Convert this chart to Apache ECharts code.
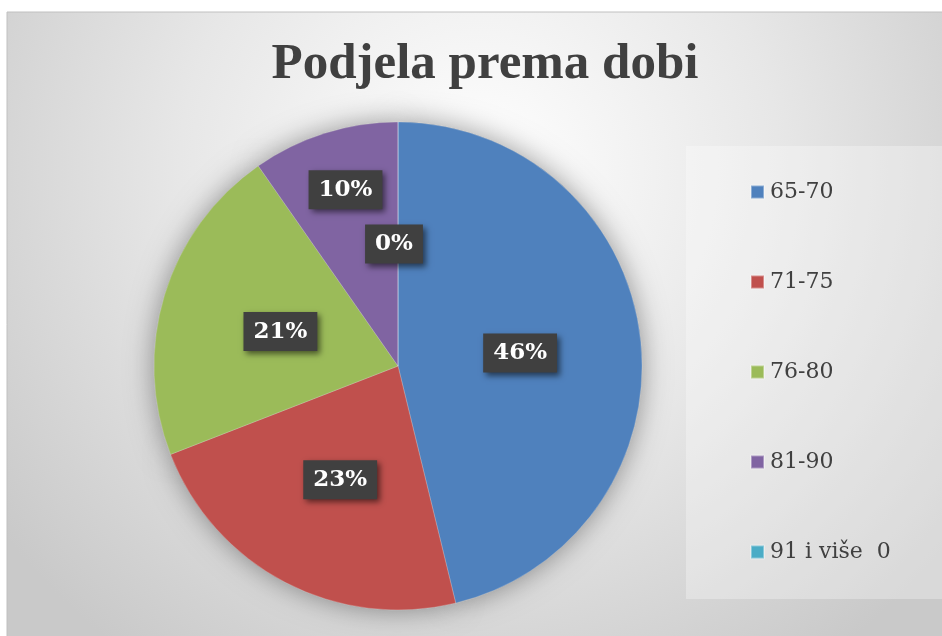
<!DOCTYPE html>
<html>
<head>
<meta charset="utf-8">
<script src="https://cdn.jsdelivr.net/npm/echarts@6/dist/echarts.min.js"></script>
<style>
  html, body { margin: 0; padding: 0; background: #fff; }
  #chart { width: 942px; height: 636px; }
</style>
</head>
<body>
<div id="chart"></div>
<script>
var titleText = 'Podjela prema dobi';
var categories = ['65-70', '71-75', '76-80', '81-90', '91 i više  0'];
var shares = [46.2, 22.9, 21.2, 9.7, 0];
var colors = ['#4F81BD', '#C0504D', '#9BBB59', '#8064A2', '#4BACC6'];

// label nudges (px) so the small slices don't overlap, like in the original
var labelShift = [[-2, 2], [0, 3], [2, 2], [-15, -57], [-4, 3]];

var serif = '"DejaVu Serif", "Liberation Serif", serif';

var chart = echarts.init(document.getElementById('chart'));

var pieData = [];
var shadowData = [];
for (var i = 0; i < categories.length; i++) {
    pieData.push({ name: categories[i], value: shares[i] });
    shadowData.push({ name: categories[i], value: shares[i] });
}

var option = {
    animation: false,
    color: colors,
    graphic: [{
        type: 'rect',
        z: -10,
        silent: true,
        shape: { x: 7, y: 12, width: 945, height: 630 },
        style: {
            fill: new echarts.graphic.RadialGradient(0.5, 0.25, 0.95, [
                { offset: 0, color: '#ffffff' },
                { offset: 0.5, color: '#e7e7e7' },
                { offset: 1, color: '#c9c9c9' }
            ]),
            stroke: '#c0c0c0',
            lineWidth: 1
        }
    }],
    title: {
        text: titleText,
        left: 480,
        top: 34,
        textAlign: 'center',
        textStyle: {
            fontFamily: '"Liberation Serif", serif',
            fontWeight: 'bold',
            fontSize: 51,
            color: '#404040'
        }
    },
    legend: {
        orient: 'vertical',
        left: 686,
        top: 146,
        padding: [35, 62, 36, 64],
        backgroundColor: 'rgba(255,255,255,0.3)',
        itemWidth: 13,
        itemHeight: 13,
        itemGap: 68,
        icon: 'rect',
        data: categories,
        textStyle: {
            fontFamily: serif,
            fontSize: 22,
            color: '#404040',
            padding: [0, 0, 0, 1]
        }
    },
    series: [{
        type: 'pie',
        z: 2,
        center: [398, 366],
        radius: 244,
        startAngle: 90,
        clockwise: true,
        avoidLabelOverlap: false,
        data: pieData,
        itemStyle: {
            borderColor: 'rgba(255,255,255,0.35)',
            borderWidth: 0.6
        },
        label: {
            show: true,
            position: 'inside',
            formatter: function(p) {
                return Math.round(p.percent) + '%';
            },
            fontFamily: serif,
            fontWeight: 'bold',
            fontSize: 23,
            lineHeight: 25,
            color: '#ffffff',
            backgroundColor: '#404040',
            padding: [8, 10, 6, 10],
            shadowColor: 'rgba(0,0,0,0.55)',
            shadowBlur: 6,
            shadowOffsetX: 3,
            shadowOffsetY: 3
        },
        labelLine: { show: false },
        labelLayout: function(params) {
            var s = labelShift[params.dataIndex] || [0, 0];
            return { dx: s[0], dy: s[1] };
        }
    }, {
        // soft shadow under the pie
        type: 'pie',
        silent: true,
        z: 1,
        center: [398, 366],
        radius: 244,
        startAngle: 90,
        clockwise: true,
        label: { show: false },
        labelLine: { show: false },
        data: shadowData,
        itemStyle: {
            color: '#999',
            shadowBlur: 28,
            shadowColor: 'rgba(0,0,0,0.4)'
        }
    }]
};

chart.setOption(option);
</script>
</body>
</html>
